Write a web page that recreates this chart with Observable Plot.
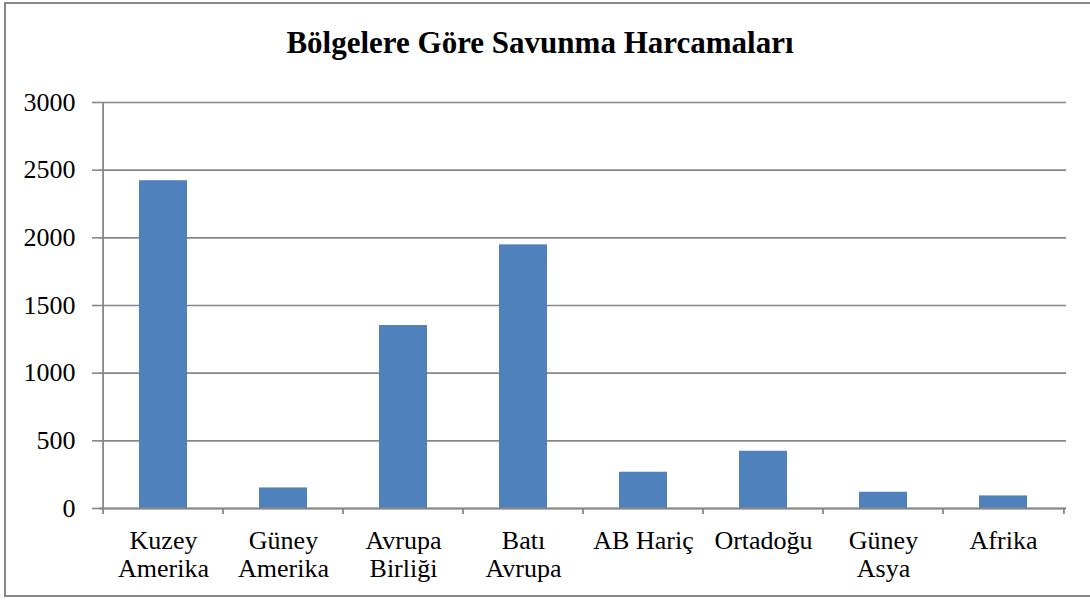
<!DOCTYPE html>
<html>
<head>
<meta charset="utf-8">
<script src="https://cdn.jsdelivr.net/npm/d3@7"></script>
<script src="https://cdn.jsdelivr.net/npm/@observablehq/plot@0.6"></script>
<style>
  html, body { margin: 0; padding: 0; background: #fff; overflow: hidden; width: 1090px; height: 601px; }
  #frame { position: absolute; left: 4px; top: 2px; width: 1200px; height: 591px; border: 2px solid #878787; box-sizing: content-box; background: transparent; pointer-events: none; z-index: 5; }
  #title { position: absolute; left: 0; top: 27px; width: 1080px; text-align: center; font-family: "Liberation Serif", "Times New Roman", serif; font-weight: bold; font-size: 31px; line-height: 1; color: #000; }
  #chart { position: absolute; left: 0; top: 70px; }
  #chart svg, #chart svg text { font-family: "Liberation Serif", "Times New Roman", serif !important; }
</style>
</head>
<body>
<div id="title">Bölgelere Göre Savunma Harcamaları</div>
<div id="chart"></div>
<div id="frame"></div>
<script>
const categories = ["Kuzey\nAmerika", "Güney\nAmerika", "Avrupa\nBirliği", "Batı\nAvrupa", "AB Hariç", "Ortadoğu", "Güney\nAsya", "Afrika"];
const values = [2422, 152, 1352, 1948, 268, 423, 120, 93];
const yTicks = [0, 500, 1000, 1500, 2000, 2500, 3000];

const data = categories.map((c, i) => ({region: c, value: values[i]}));

const W = 1090, H = 525;
const mL = 99, mR = 24, mT = 32, mB = 87;
const step = (W - mL - mR) / categories.length;
const gray = "#878787";
const serif = "Liberation Serif, Times New Roman, serif";

const plot = Plot.plot({
  width: W,
  height: H,
  marginLeft: mL,
  marginRight: mR,
  marginTop: mT,
  marginBottom: mB,
  style: {fontFamily: serif, fontSize: "26px", color: "#000", background: "transparent"},
  x: {domain: categories, paddingInner: 0.6, paddingOuter: 0.3},
  y: {domain: [0, 3000]},
  marks: [
    Plot.gridY(yTicks, {stroke: gray, strokeOpacity: 1, strokeWidth: 1.6}),
    Plot.barY(data, {x: "region", y: "value", fill: "#4F81BD"}),
    Plot.ruleY([0], {stroke: gray, strokeWidth: 1.8}),
    Plot.ruleX(categories, {x: d => d, y1: 0, y2: 0, dx: -step / 2, insetBottom: -6, stroke: gray, strokeWidth: 1.8}),
    Plot.ruleX(categories.slice(-1), {x: d => d, y1: 0, y2: 0, dx: step / 2, insetBottom: -6, stroke: gray, strokeWidth: 1.8}),
    Plot.ruleX(categories.slice(0, 1), {x: d => d, y1: 0, y2: 3000, dx: -step / 2, stroke: gray, strokeWidth: 1.8}),
    Plot.axisY({ticks: yTicks, tickSize: 7, tickPadding: 17, stroke: gray, strokeWidth: 1.6, tickFormat: d => String(d), fontSize: 26, fontFamily: serif, label: null, fill: "#000"}),
    Plot.axisX({tickSize: 0, tickPadding: 20, lineHeight: 1.1, fontSize: 26, fontFamily: serif, label: null, fill: "#000"})
  ]
});
document.getElementById("chart").appendChild(plot);
</script>
</body>
</html>
